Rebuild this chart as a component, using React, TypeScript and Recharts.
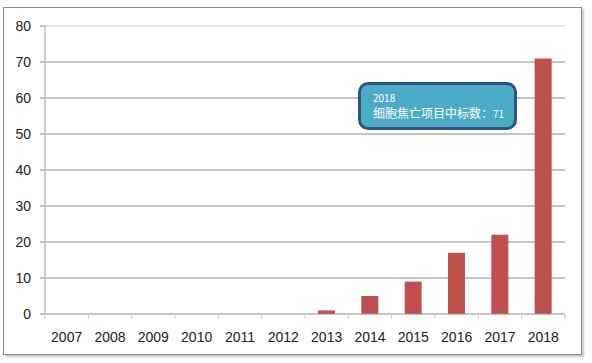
import { Bar, BarChart, CartesianGrid, ReferenceLine, XAxis, YAxis } from "recharts";

const years = ["2007", "2008", "2009", "2010", "2011", "2012", "2013", "2014", "2015", "2016", "2017", "2018"];
const counts = [0, 0, 0, 0, 0, 0, 1, 5, 9, 17, 22, 71];
const yTicks = [0, 10, 20, 30, 40, 50, 60, 70, 80];

const data = years.map((year, i) => ({ year, count: counts[i] }));

const W = 592;
const H = 363;
const M = { top: 26, right: 27, left: 0, bottom: 19 };
const Y_W = 45;
const step = (W - M.left - M.right - Y_W) / years.length;
const FONT = "'Liberation Sans', Arial, sans-serif";

function YearTick(props: any) {
  const { x, y, payload } = props;
  return (
    <g>
      <line x1={x - step / 2} y1={y - 8} x2={x - step / 2} y2={y - 3} stroke="#c8c8c8" />
      {payload.index === years.length - 1 && (
        <line x1={x + step / 2} y1={y - 8} x2={x + step / 2} y2={y - 3} stroke="#c8c8c8" />
      )}
      <text x={x} y={y + 20} textAnchor="middle" fill="#222" fontSize={14} fontFamily={FONT}>
        {payload.value}
      </text>
    </g>
  );
}

function TopLabel(props: any) {
  const { x, y, width, index, value } = props;
  if (index !== counts.length - 1) return null;
  return (
    <text x={x + width / 2} y={y - 10} textAnchor="middle" fill="#111" fontSize={14} fontFamily={FONT}>
      {value}
    </text>
  );
}

export default function App() {
  return (
    <div style={{ position: "absolute", left: 0, top: 0, width: W, height: H, background: "#fff" }}>
      <div
        style={{
          position: "absolute",
          left: 3,
          top: 7,
          width: 577,
          height: 346,
          border: "1px solid #8c8c8c",
          boxShadow: "2px 2px 2px #c8c8c8",
        }}
      />
      <div style={{ position: "absolute", left: 0, top: 0 }}>
        <BarChart width={W} height={H} data={data} margin={M} barSize={17}>
          <CartesianGrid vertical={false} stroke="#8a8a8a" horizontalValues={yTicks.slice(1, -1)} />
          <ReferenceLine y={80} stroke="#d0d0d0" />
          <XAxis
            dataKey="year"
            height={30}
            axisLine={{ stroke: "#8a8a8a" }}
            tickLine={false}
            tick={<YearTick />}
            interval={0}
          />
          <YAxis
            width={Y_W}
            domain={[0, 80]}
            ticks={yTicks}
            axisLine={{ stroke: "#d0d0d0", strokeWidth: 2 }}
            tickLine={{ stroke: "#8a8a8a" }}
            tickSize={5}
            tickMargin={9}
            tick={{ fill: "#222", fontSize: 14, fontFamily: FONT }}
          />
          <Bar dataKey="count" fill="#C0504D" isAnimationActive={false} label={<TopLabel />} />
        </BarChart>
      </div>
      <div
        style={{
          position: "absolute",
          left: 358,
          top: 82,
          width: 153,
          height: 42,
          border: "3px solid #2f5582",
          borderRadius: 10,
          background: "#4bacc6",
          color: "#fff",
          fontFamily: "'Noto Sans CJK SC', sans-serif",
        }}
      >
        <div style={{ position: "absolute", left: 12, top: 7, fontSize: 10, lineHeight: "12px" }}>2018</div>
        <div style={{ position: "absolute", left: 12, top: 20, fontSize: 12, lineHeight: "16px", whiteSpace: "nowrap" }}>
          细胞焦亡项目中标数：<span style={{ fontSize: 10 }}>71</span>
        </div>
      </div>
    </div>
  );
}
